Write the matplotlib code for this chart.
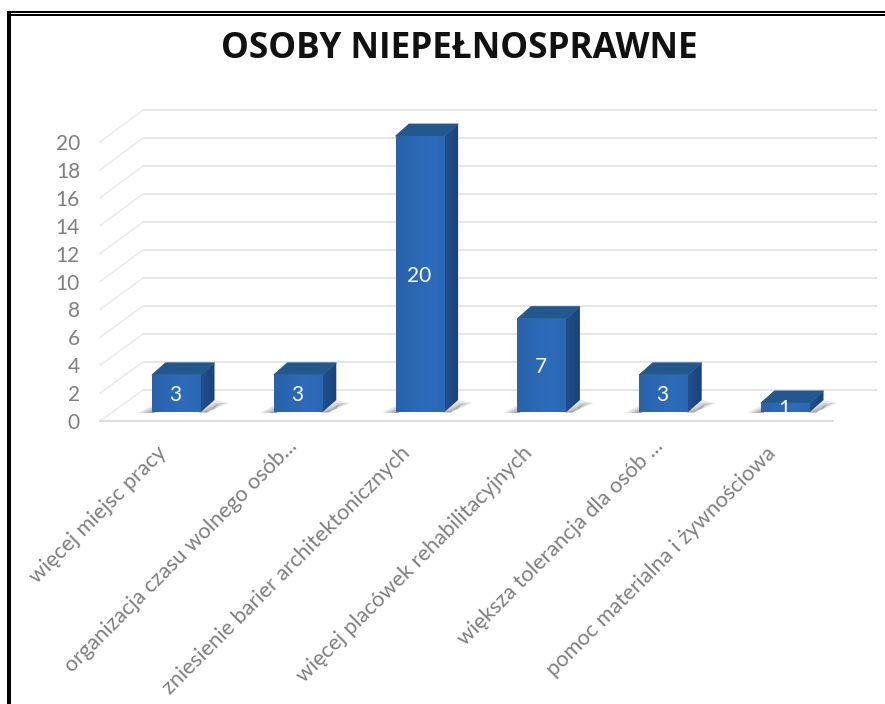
import numpy as np
import matplotlib
matplotlib.use("Agg")
import matplotlib.pyplot as plt
from matplotlib.patches import Polygon, Rectangle
from matplotlib.colors import LinearSegmentedColormap

title = "OSOBY NIEPEŁNOSPRAWNE"
categories = ["więcej miejsc pracy", "organizacja czasu wolnego osób...",
              "zniesienie barier architektonicznych", "więcej placówek rehabilitacyjnych",
              "większa tolerancja dla osób ...", "pomoc materialna i żywnościowa"]
values = [3, 3, 20, 7, 3, 1]
y_ticks = list(range(0, 21, 2))

W, H = 885, 704
X0, STEP = 176.5, 121.8      # pixel of first category, pixels per category
Y0, UNIT = 417.0, 14.05      # pixel of value 0 in the bar plane, pixels per value
px = 1 / STEP
py = 1 / UNIT

fig = plt.figure(figsize=(W / 100, H / 100), dpi=100, facecolor="white")
ax = fig.add_axes([0, 0, 1, 1])
ax.set_xlim(-X0 / STEP, (W - X0) / STEP)
ax.set_ylim((Y0 - H) / UNIT, Y0 / UNIT)
ax.axis("off")
FONT = "Lato"
xlim, ylim = ax.get_xlim(), ax.get_ylim()

# frame
def frame(x0, y0, x1, y1):
    fig.add_artist(Rectangle((x0 / W, 1 - y1 / H), (x1 - x0) / W, (y1 - y0) / H,
                             transform=fig.transFigure, fc="black", ec="none"))
frame(7, 11, W, 13)
frame(7, 14, W, 16)
frame(7, 11, 11, H)

# wall / floor geometry (pixel offsets from the bar plane)
wall_left = (143 - X0) * px
wall_right = (877 - X0) * px
front_left = (100 - X0) * px
front_right = (833 - X0) * px
wall_dy = (Y0 - 390) * py
front_dy = (Y0 - 421) * py
wall_scale = 14.0 / UNIT
front_scale = 13.95 / UNIT

GRID = "#e3e3e3"
for v in y_ticks:
    yb = v * wall_scale + wall_dy
    yf = v * front_scale + front_dy
    ax.plot([wall_left, wall_right], [yb, yb], color=GRID, lw=1.3, zorder=1, solid_capstyle="butt")
    ax.plot([front_left, wall_left], [yf, yb], color="#ebebeb", lw=1.2, zorder=1)
    ax.text((80 - X0) * px, yf, str(v), ha="right", va="center_baseline", color="#7f7f7f",
            fontsize=15, family=FONT, zorder=5)
ax.plot([front_left, front_right], [front_dy, front_dy], color="#dedede", lw=1.4, zorder=1)

# bars
half = 24.5 * px
dx, dy = 13.5 * px, 12.0 * py
base = (Y0 - 412) * py
front_cmap = LinearSegmentedColormap.from_list("f", ["#2a62ab", "#2b67b3", "#2d6cba", "#2b67b2"])
side_cmap = LinearSegmentedColormap.from_list("s", ["#234f8c", "#1d4a85", "#1b4277"])


def grad(poly, cmap, extent, vertical=False, z=3):
    g = np.linspace(0, 1, 64)
    g = g[:, None] if vertical else g[None, :]
    im = ax.imshow(g, cmap=cmap, extent=extent, aspect="auto", origin="lower", zorder=z,
                   interpolation="bilinear")
    p = Polygon(poly, closed=True, transform=ax.transData, fc="none", ec="none")
    ax.add_patch(p)
    im.set_clip_path(p)


for i, v in enumerate(values):
    l, r = i - half, i + half
    # soft floor shadow, left and right of the bar
    for grow, a in zip([1.0, 0.75, 0.5, 0.25], [0.15, 0.18, 0.22, 0.25]):
        ax.add_patch(Polygon([(l - grow * 14 * px, base - 0.5 * py), (l + 3 * px, base - 0.5 * py),
                              (l + 3 * px, base + grow * 8 * py)],
                             closed=True, fc="#6a6a6a", ec="none", alpha=a, zorder=2))
        ax.add_patch(Polygon([(r - 2 * px, base - 0.5 * py), (r + 6 * px, base - 0.5 * py),
                              (r + dx + grow * 14 * px, base + 9 * py),
                              (r + dx, base + grow * 12 * py)],
                             closed=True, fc="#6a6a6a", ec="none", alpha=a, zorder=2))
    # side
    side = [(r - 1 * px, base), (r, base), (r + dx, base + dy), (r + dx, v + dy), (r, v), (r - 1 * px, v)]
    grad(side, side_cmap, (r - 1 * px, r + dx, base, v + dy))
    # top
    ax.add_patch(Polygon([(l, v), (r, v), (r + dx, v + dy), (l + dx, v + dy)], closed=True,
                         fc="#23588f", ec="#23588f", lw=0.6, joinstyle="round", zorder=3))
    # front
    front = [(l, base), (r, base), (r, v), (l, v)]
    grad(front, front_cmap, (l, r, base, v), z=4)
    ax.text(i - 1 * px, (v + base) / 2, str(v), ha="center", va="center_baseline", color="white",
            fontsize=15, family=FONT, zorder=6)

# category labels
for i, c in enumerate(categories):
    ell = c.endswith("...")
    ox, oy = (-4, 443) if ell else (-13, 450)
    ax.text(i + ox * px, (Y0 - oy) * py, c, rotation=45, rotation_mode="anchor", ha="right",
            va="center", color="#7f7f7f", fontsize=15.7, family=FONT, zorder=5)

ax.set_xlim(xlim)
ax.set_ylim(ylim)

fig.text(459 / W, 1 - 49 / H, title, ha="center", va="center", fontsize=25.3, fontweight="bold",
         family="Open Sans", color="#111111")

fig.savefig("out.png", dpi=100, facecolor="white")
